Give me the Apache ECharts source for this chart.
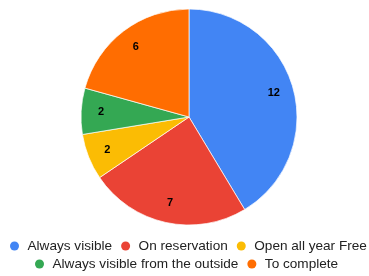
<!DOCTYPE html>
<html>
<head>
<meta charset="utf-8">
<script src="https://cdn.jsdelivr.net/npm/echarts@6/dist/echarts.min.js"></script>
<style>
  html, body { margin: 0; padding: 0; background: #fff; }
  #chart { width: 369px; height: 276px; }
</style>
</head>
<body>
<div id="chart"></div>
<script>
  var categories = ['Always visible', 'On reservation', 'Open all year Free', 'Always visible from the outside', 'To complete'];
  var counts = [12, 7, 2, 2, 6];
  var colors = ['#4285F4', '#EA4335', '#FBBC04', '#34A853', '#FF6D01'];

  var pieData = categories.map(function (name, i) {
    return { name: name, value: counts[i], itemStyle: { color: colors[i] } };
  });

  var chart = echarts.init(document.getElementById('chart'));
  var legendText = { fontFamily: 'Liberation Sans, Arial', fontSize: 13.6, color: '#222' };
  var option = {
    animation: false,
    legend: [
      {
        data: categories.slice(0, 3),
        left: 10, top: 234, padding: [5, 0],
        icon: 'circle', itemWidth: 16, itemHeight: 9, itemGap: 9,
        itemStyle: { borderWidth: 0 },
        textStyle: legendText
      },
      {
        data: categories.slice(3),
        left: 35, top: 252, padding: [5, 0],
        icon: 'circle', itemWidth: 16, itemHeight: 9, itemGap: 9,
        itemStyle: { borderWidth: 0 },
        textStyle: legendText
      }
    ],
    series: [
      {
        name: 'slices',
        type: 'pie',
        center: [189, 117],
        radius: 108,
        startAngle: 90,
        clockwise: true,
        label: { show: false },
        labelLine: { show: false },
        itemStyle: { borderColor: '#fff', borderWidth: 0.7 },
        emphasis: { disabled: true },
        data: pieData
      },
      {
        // label ring only, so the numbers sit near the outer edge
        name: 'labels',
        type: 'pie',
        center: [189, 117],
        radius: [62, 108],
        startAngle: 90,
        clockwise: true,
        silent: true,
        legendHoverLink: false,
        itemStyle: { color: 'rgba(0,0,0,0)' },
        label: {
          show: true, position: 'inside',
          formatter: '{c}', padding: [5, 0, 0, 0],
          fontFamily: 'Liberation Sans, Arial', fontSize: 11, fontWeight: 'bold', color: '#000'
        },
        labelLine: { show: false },
        data: counts.map(function (v, i) { return { name: categories[i] + ' ', value: v }; })
      }
    ]
  };
  chart.setOption(option);
</script>
</body>
</html>
